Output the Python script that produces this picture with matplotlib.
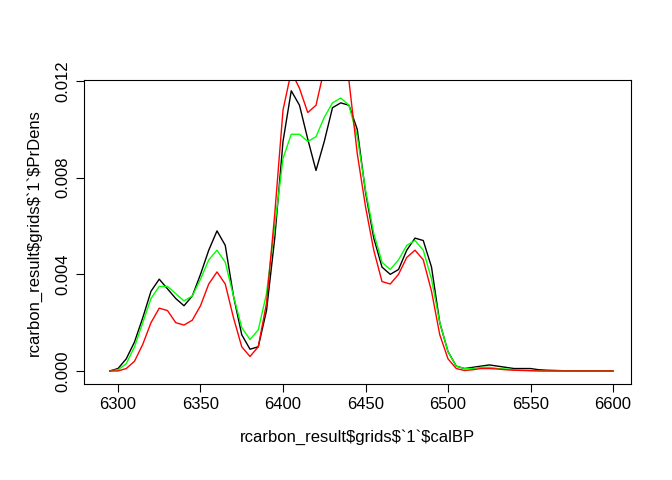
import numpy as np
import matplotlib.pyplot as plt

plt.rcParams['font.family'] = ['Liberation Sans', 'DejaVu Sans']

years = list(range(6295, 6605, 5))

black = [0, 0.0001, 0.0005, 0.0012, 0.0022, 0.0033, 0.0038, 0.0034, 0.0030, 0.0027,
         0.0031, 0.0040, 0.0050, 0.0058, 0.0052, 0.0031, 0.0015, 0.0009, 0.0010, 0.0025,
         0.0055, 0.0095, 0.0116, 0.0110, 0.0096, 0.0083, 0.0095, 0.0109, 0.0111, 0.0110,
         0.0100, 0.0074, 0.0055, 0.0043, 0.0040, 0.0042, 0.0050, 0.0055, 0.0054, 0.0043,
         0.0020, 0.0008, 0.0002, 0.0001, 0.00015, 0.0002, 0.00025, 0.0002, 0.00015, 0.0001,
         0.0001, 0.0001, 0.00005, 0.00003, 0.00002, 0.00001, 0.00001, 0, 0, 0, 0, 0]

green = [0, 0.00005, 0.0003, 0.0010, 0.0020, 0.0030, 0.0035, 0.0035, 0.0032, 0.0029,
         0.0031, 0.0038, 0.0046, 0.0050, 0.0045, 0.0031, 0.0018, 0.0013, 0.0017, 0.0032,
         0.0060, 0.0088, 0.0098, 0.0098, 0.0095, 0.0097, 0.0105, 0.0111, 0.0113, 0.0110,
         0.0097, 0.0075, 0.0057, 0.0045, 0.0042, 0.0046, 0.0052, 0.0054, 0.0050, 0.0038,
         0.0020, 0.0008, 0.0002, 0.0001, 0.0001, 0.00015, 0.00015, 0.0001, 0.00008, 0.00005,
         0.00003, 0.00002, 0.00001, 0, 0, 0, 0, 0, 0, 0, 0, 0]

red = [0, 0, 0.0001, 0.0004, 0.0011, 0.0020, 0.0026, 0.0025, 0.0020, 0.0019,
       0.0021, 0.0027, 0.0036, 0.0041, 0.0036, 0.0022, 0.0010, 0.0006, 0.0010, 0.0028,
       0.0065, 0.0108, 0.0124, 0.0117, 0.0107, 0.0110, 0.0125, 0.0135, 0.0135, 0.0120,
       0.0090, 0.0068, 0.0050, 0.0037, 0.0036, 0.0040, 0.0047, 0.0050, 0.0046, 0.0033,
       0.0015, 0.0005, 0.0001, 0.00002, 0.00005, 0.0001, 0.0001, 0.00008, 0.00005, 0.00003,
       0.00002, 0.00001, 0, 0, 0, 0, 0, 0, 0, 0, 0, 0]

fig = plt.figure(figsize=(6.72, 4.8), dpi=100)
ax = fig.add_axes([0.125, 0.2, 0.814, 0.633])
ax.plot(years, black, color='black', lw=1)
ax.plot(years, green, color='#00ff00', lw=1)
ax.plot(years, red, color='red', lw=1)
ax.set_xlim(6279.4, 6610.9)
ax.set_ylim(-0.00054, 0.01204)
ax.set_xticks([6300, 6350, 6400, 6450, 6500, 6550, 6600])
ax.set_yticks([0, 0.004, 0.008, 0.012])
ax.set_yticklabels(['0.000', '0.004', '0.008', '0.012'], rotation=90, va='center')
ax.tick_params(labelsize=12, direction='out', length=6)
ax.set_xlabel('rcarbon_result$grids$`1`$calBP', fontsize=12, labelpad=12)
ax.set_ylabel('rcarbon_result$grids$`1`$PrDens', fontsize=12, labelpad=10)
fig.savefig('out.png', dpi=100)
